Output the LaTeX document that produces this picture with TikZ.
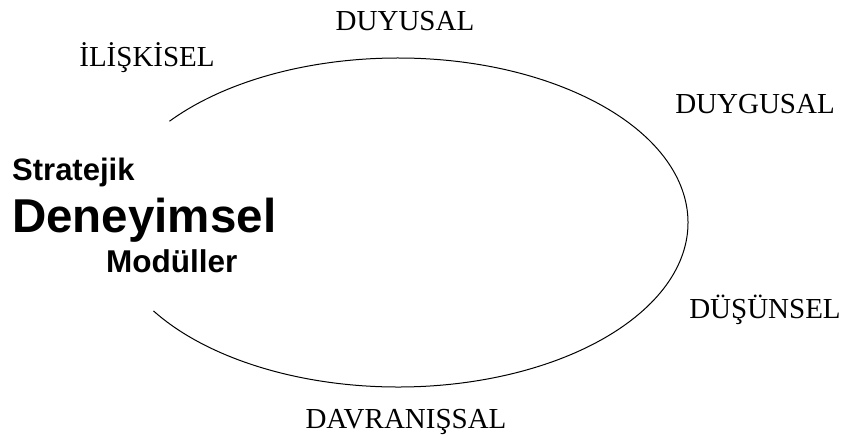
\documentclass[tikz,border=0pt]{standalone}
\usepackage{fontspec}
\setmainfont{Liberation Serif}
\newfontfamily\arialfont{Liberation Sans}
\begin{document}
\begin{tikzpicture}[x=1pt,y=-1pt,
  dim/.style={font=\fontsize{29}{29}\selectfont, inner sep=0pt, anchor=base},
  titlebox/.style={font=\arialfont\bfseries, inner sep=0pt, anchor=base west}]
\useasboundingbox (0,0) rectangle (843,437);
% open ellipse
\draw[line width=1pt] (398,222.5) ++(142:290 and -164.5) coordinate (s)
  arc[start angle=142, end angle=-147.5, x radius=290, y radius=-164.5];
% labels
\node[dim] (duyusal) at (405,30) {DUYUSAL};
\node[dim] (iliskisel) at (147,66) {İLİŞKİSEL};
\node[dim] (duygusal) at (755,113) {DUYGUSAL};
\node[dim] (dusunsel) at (765,318) {DÜŞÜNSEL};
\node[dim] (davranissal) at (406,428) {DAVRANIŞSAL};
% title
\node[titlebox, font=\arialfont\bfseries\fontsize{31}{31}\selectfont] (strat) at (12,180) {Stratejik};
\node[titlebox, font=\arialfont\bfseries\fontsize{47.5}{47.5}\selectfont] (deney) at (12,232) {Deneyimsel};
\node[titlebox, font=\arialfont\bfseries\fontsize{31.5}{31.5}\selectfont] (modul) at (106,272) {Modüller};
\end{tikzpicture}
\end{document}
